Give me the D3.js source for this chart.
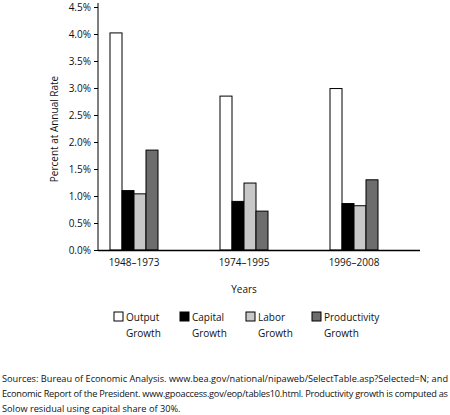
<!DOCTYPE html>
<html><head><meta charset="utf-8">
<script src="https://cdn.jsdelivr.net/npm/d3@7"></script>
<style>body{margin:0;background:#fff}text{font-family:"Open Sans",sans-serif;fill:#111}</style>
</head><body>
<script>
var periods = ["1948–1973", "1974–1995", "1996–2008"];
var seriesNames = ["Output Growth", "Capital Growth", "Labor Growth", "Productivity Growth"];
var output = [4.02, 2.85, 2.99];
var capital = [1.10, 0.90, 0.86];
var labor = [1.04, 1.24, 0.82];
var productivity = [1.85, 0.72, 1.30];
var yTicks = [0, 0.5, 1, 1.5, 2, 2.5, 3, 3.5, 4, 4.5];
var colors = ["#ffffff", "#000000", "#c8c8c8", "#6d6d6d"];
var series = [output, capital, labor, productivity];

var svg = d3.select("body").append("svg").attr("width", 450).attr("height", 415);

var x = d3.scaleBand().domain(periods).range([79, 409]);
var y = d3.scaleLinear().domain([0, 4.5]).range([250, 7]);

var sub = d3.scaleBand().domain(d3.range(4)).range([-24, 24]);

series.forEach(function (vals, i) {
    svg.append("g").selectAll("rect")
        .data(vals).enter().append("rect")
        .attr("x", function (d, j) { return x(periods[j]) + x.bandwidth() / 2 + sub(i); })
        .attr("y", function (d) { return y(d); })
        .attr("width", sub.bandwidth())
        .attr("height", function (d) { return y(0) - y(d); })
        .attr("fill", colors[i])
        .attr("stroke", "#000").attr("stroke-width", 1);
});

// y axis
var yAxis = svg.append("g").attr("transform", "translate(98,0)")
    .call(d3.axisLeft(y).tickValues(yTicks).tickSize(4).tickFormat(function (d) { return d.toFixed(1) + "%"; }));
yAxis.selectAll("text").style("font-size", "10px");
yAxis.select(".domain").attr("d", "M0,3V250");

// x axis
svg.append("line").attr("x1", 98).attr("x2", 420).attr("y1", 250.5).attr("y2", 250.5)
    .attr("stroke", "#000").attr("stroke-width", 1.5);
svg.selectAll(".xl").data(periods).enter().append("text")
    .attr("x", function (d) { return x(d) + x.bandwidth() / 2; })
    .attr("y", 266).attr("text-anchor", "middle").style("font-size", "10px")
    .text(function (d) { return d; });

svg.append("text").attr("x", 244).attr("y", 293).attr("text-anchor", "middle")
    .style("font-size", "10px").text("Years");
svg.append("text").attr("transform", "translate(58,129) rotate(-90)")
    .attr("text-anchor", "middle").style("font-size", "10px").text("Percent at Annual Rate");

// legend
var legX = [114, 180, 246, 312];
seriesNames.forEach(function (name, i) {
    var g = svg.append("g").attr("transform", "translate(" + legX[i] + ",312)");
    g.append("rect").attr("x", 0).attr("y", 0).attr("width", 9).attr("height", 9)
        .attr("fill", colors[i]).attr("stroke", "#000");
    var parts = name.split(" ");
    g.append("text").attr("x", 12).attr("y", 9).style("font-size", "10px").text(parts[0]);
    g.append("text").attr("x", 12).attr("y", 25).style("font-size", "10px").text(parts[1]);
});

var notes = [
    "Sources: Bureau of Economic Analysis. www.bea.gov/national/nipaweb/SelectTable.asp?Selected=N; and",
    "Economic Report of the President. www.gpoaccess.gov/eop/tables10.html. Productivity growth is computed as",
    "Solow residual using capital share of 30%."
];
svg.selectAll(".note").data(notes).enter().append("text")
    .attr("x", 2).attr("y", function (d, i) { return 382 + i * 15; })
    .style("font-size", "9.2px").attr("textLength", function (d, i) { return i < 2 ? 446 : null; })
    .text(function (d) { return d; });
</script>
</body></html>
